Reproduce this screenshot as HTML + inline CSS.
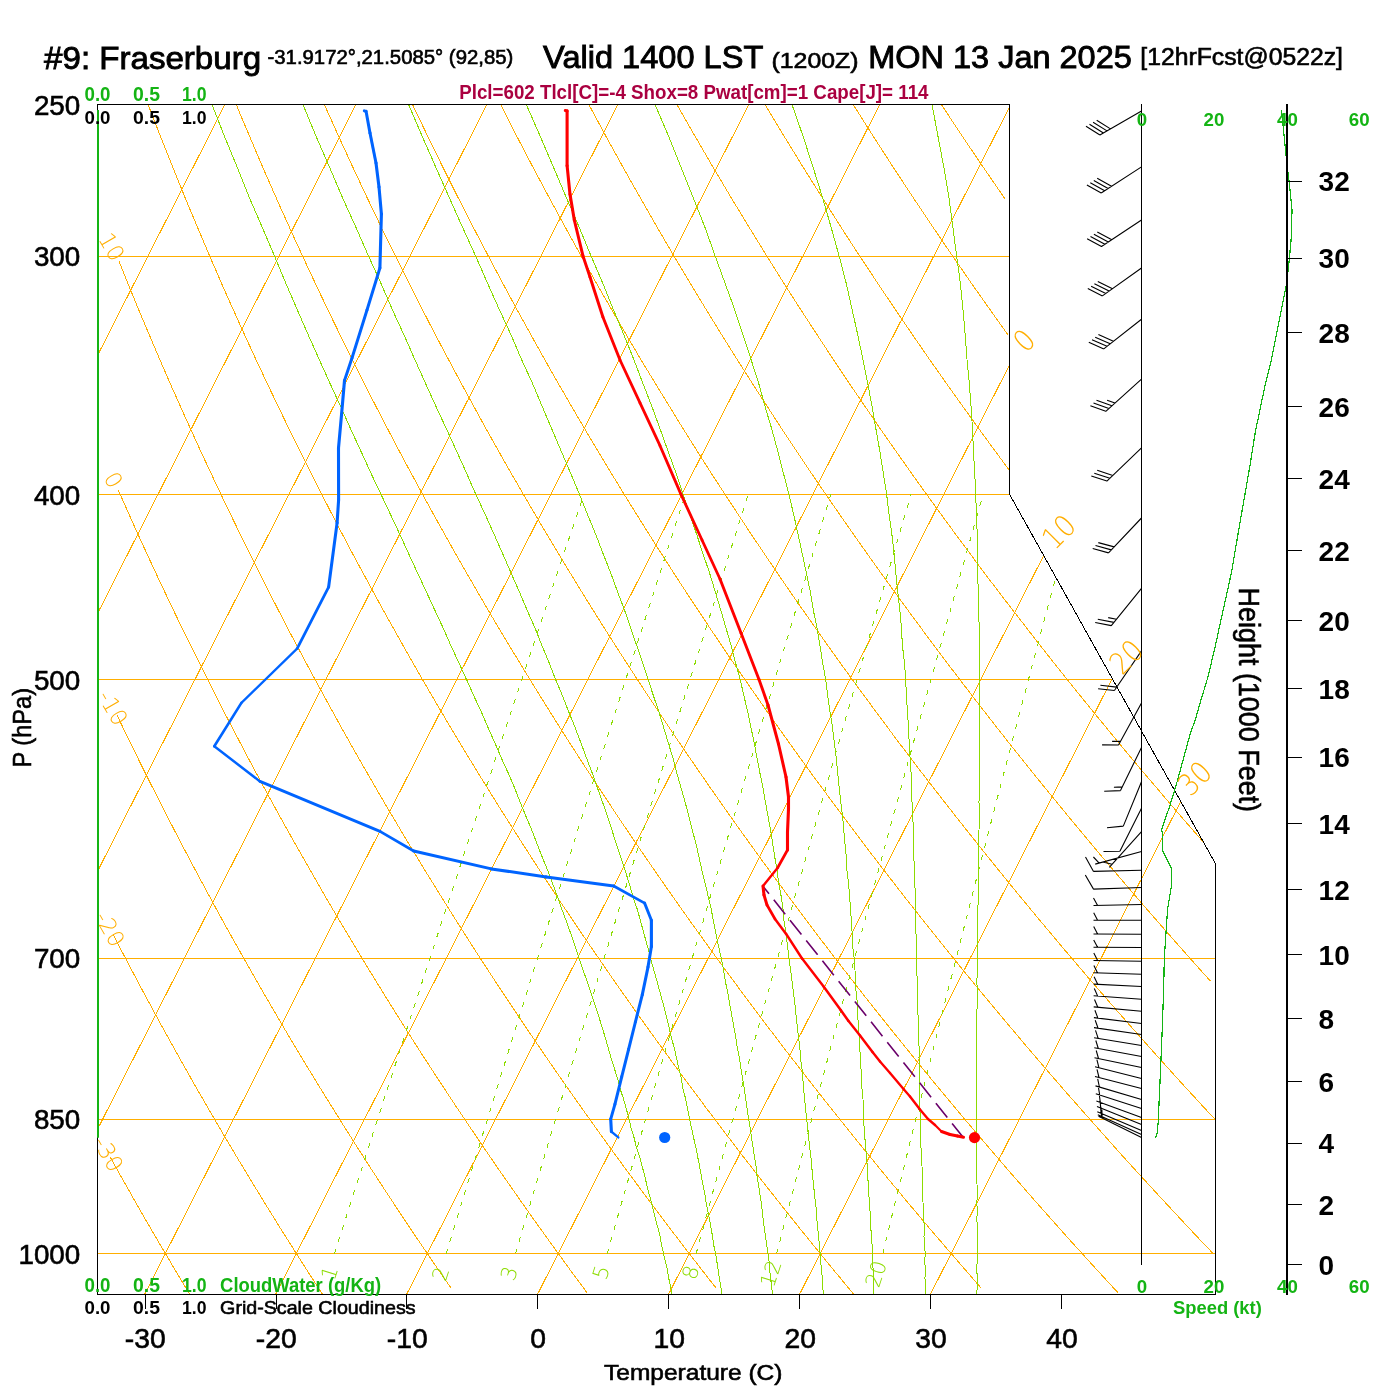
<!DOCTYPE html>
<html><head><meta charset="utf-8"><style>
html,body{margin:0;padding:0;background:#fff;}
svg{display:block;}
text{font-family:"Liberation Sans",sans-serif;}
</style></head><body>
<svg width="1400" height="1400" viewBox="0 0 1400 1400">
<defs><clipPath id="cp"><polygon points="97.5,1294.0 1215.5,1294.0 1215.5,863.7 1009.4,494.2 1009.4,104.5 97.5,104.5"/></clipPath></defs>
<g clip-path="url(#cp)" fill="none" stroke-width="1" shape-rendering="crispEdges">
<line x1="97.5" y1="256.5" x2="1300.0" y2="256.5" stroke="#ffae00"/>
<line x1="97.5" y1="494.5" x2="1300.0" y2="494.5" stroke="#ffae00"/>
<line x1="97.5" y1="679.5" x2="1300.0" y2="679.5" stroke="#ffae00"/>
<line x1="97.5" y1="958.5" x2="1300.0" y2="958.5" stroke="#ffae00"/>
<line x1="97.5" y1="1119.5" x2="1300.0" y2="1119.5" stroke="#ffae00"/>
<line x1="97.5" y1="1253.5" x2="1300.0" y2="1253.5" stroke="#ffae00"/>
<line x1="-771.9" y1="1294.0" x2="217.8" y2="-655.0" stroke="#ffae00"/>
<line x1="-640.9" y1="1294.0" x2="348.7" y2="-655.0" stroke="#ffae00"/>
<line x1="-510.0" y1="1294.0" x2="479.7" y2="-655.0" stroke="#ffae00"/>
<line x1="-379.0" y1="1294.0" x2="610.6" y2="-655.0" stroke="#ffae00"/>
<line x1="-248.0" y1="1294.0" x2="741.6" y2="-655.0" stroke="#ffae00"/>
<line x1="-117.1" y1="1294.0" x2="872.6" y2="-655.0" stroke="#ffae00"/>
<line x1="13.9" y1="1294.0" x2="1003.5" y2="-655.0" stroke="#ffae00"/>
<line x1="144.8" y1="1294.0" x2="1134.5" y2="-655.0" stroke="#ffae00"/>
<line x1="275.8" y1="1294.0" x2="1265.4" y2="-655.0" stroke="#ffae00"/>
<line x1="406.8" y1="1294.0" x2="1396.4" y2="-655.0" stroke="#ffae00"/>
<line x1="537.7" y1="1294.0" x2="1527.4" y2="-655.0" stroke="#ffae00"/>
<line x1="668.7" y1="1294.0" x2="1658.3" y2="-655.0" stroke="#ffae00"/>
<line x1="799.7" y1="1294.0" x2="1789.3" y2="-655.0" stroke="#ffae00"/>
<line x1="930.6" y1="1294.0" x2="1920.3" y2="-655.0" stroke="#ffae00"/>
<polyline points="110.2,1157.0 115.3,1166.2 120.4,1175.4 125.5,1184.4 130.6,1193.4 135.6,1202.3 140.6,1211.0 145.6,1219.7 150.6,1228.3 155.6,1236.8 160.5,1245.2 165.4,1253.5 170.3,1261.8 175.1,1270.0 179.9,1278.0 184.8,1286.1 189.5,1294.0" stroke="#ffae00"/>
<polyline points="112.8,933.9 119.0,946.0 125.3,957.9 131.5,969.7 137.6,981.3 143.7,992.7 149.8,1004.0 155.8,1015.1 161.8,1026.1 167.8,1036.9 173.7,1047.6 179.6,1058.2 185.5,1068.6 191.3,1078.9 197.1,1089.1 202.9,1099.1 208.6,1109.0 214.3,1118.8 220.0,1128.5 225.6,1138.1 231.3,1147.6 236.8,1157.0 242.4,1166.2 247.9,1175.4 253.4,1184.4 258.9,1193.4 264.3,1202.3 269.7,1211.0 275.1,1219.7 280.4,1228.3 285.8,1236.8 291.1,1245.2 296.3,1253.5 301.6,1261.8 306.8,1270.0 312.0,1278.0 317.2,1286.1 322.3,1294.0" stroke="#ffae00"/>
<polyline points="116.8,714.7 124.3,730.4 131.9,745.9 139.3,761.0 146.7,775.9 154.1,790.5 161.3,804.9 168.6,819.0 175.8,832.9 182.9,846.6 190.0,860.0 197.0,873.2 204.0,886.2 210.9,899.0 217.8,911.7 224.6,924.1 231.4,936.3 238.2,948.4 244.9,960.3 251.5,972.0 258.2,983.6 264.7,995.0 271.3,1006.2 277.8,1017.3 284.2,1028.3 290.6,1039.1 297.0,1049.7 303.3,1060.3 309.6,1070.7 315.9,1080.9 322.1,1091.1 328.3,1101.1 334.5,1111.0 340.6,1120.8 346.7,1130.5 352.7,1140.0 358.7,1149.5 364.7,1158.8 370.6,1168.1 376.6,1177.2 382.4,1186.2 388.3,1195.2 394.1,1204.0 399.9,1212.8 405.7,1221.4 411.4,1230.0 417.1,1238.5 422.8,1246.9 428.4,1255.2 434.0,1263.4 439.6,1271.6 445.2,1279.7 450.7,1287.6" stroke="#ffae00"/>
<polyline points="118.2,489.9 127.3,510.5 136.3,530.6 145.3,550.2 154.1,569.3 162.9,588.0 171.6,606.3 180.2,624.2 188.8,641.7 197.3,658.9 205.7,675.7 214.0,692.2 222.2,708.3 230.4,724.2 238.6,739.7 246.6,755.0 254.6,770.0 262.5,784.7 270.4,799.2 278.2,813.4 286.0,827.4 293.6,841.1 301.3,854.6 308.9,867.9 316.4,881.0 323.8,893.9 331.2,906.6 338.6,919.1 345.9,931.4 353.2,943.6 360.4,955.5 367.5,967.3 374.7,979.0 381.7,990.4 388.7,1001.7 395.7,1012.9 402.6,1023.9 409.5,1034.8 416.3,1045.5 423.1,1056.1 429.9,1066.5 436.6,1076.8 443.3,1087.0 449.9,1097.1 456.5,1107.1 463.1,1116.9 469.6,1126.6 476.1,1136.2 482.5,1145.7 488.9,1155.1 495.3,1164.4 501.6,1173.6 507.9,1182.6 514.2,1191.6 520.4,1200.5 526.6,1209.3 532.7,1218.0 538.9,1226.6 545.0,1235.1 551.0,1243.5 557.1,1251.9 563.1,1260.1 569.0,1268.3 575.0,1276.4 580.9,1284.5 586.8,1292.4" stroke="#ffae00"/>
<polyline points="118.9,261.1 129.8,288.1 140.6,314.3 151.3,339.6 161.8,364.2 172.2,388.1 182.6,411.3 192.8,433.9 202.9,455.9 212.9,477.3 222.8,498.2 232.6,518.6 242.3,538.5 251.9,557.9 261.4,576.8 270.8,595.4 280.1,613.5 289.3,631.3 298.5,648.6 307.6,665.7 316.6,682.3 325.5,698.7 334.3,714.7 343.0,730.4 351.7,745.9 360.3,761.0 368.9,775.9 377.3,790.5 385.7,804.9 394.1,819.0 402.3,832.9 410.5,846.6 418.7,860.0 426.7,873.2 434.8,886.2 442.7,899.0 450.6,911.7 458.4,924.1 466.2,936.3 473.9,948.4 481.6,960.3 489.2,972.0 496.8,983.6 504.3,995.0 511.8,1006.2 519.2,1017.3 526.6,1028.3 533.9,1039.1 541.1,1049.7 548.4,1060.3 555.5,1070.7 562.7,1080.9 569.8,1091.1 576.8,1101.1 583.8,1111.0 590.8,1120.8 597.7,1130.5 604.6,1140.0 611.4,1149.5 618.2,1158.8 625.0,1168.1 631.7,1177.2 638.4,1186.2 645.0,1195.2 651.6,1204.0 658.2,1212.8 664.7,1221.4 671.2,1230.0 677.7,1238.5 684.1,1246.9 690.5,1255.2 696.9,1263.4 703.2,1271.6 709.5,1279.7 715.8,1287.6" stroke="#ffae00"/>
<polyline points="122.4,35.4 135.3,70.7 148.1,104.5 160.7,137.0 173.2,168.3 185.4,198.4 197.6,227.5 209.5,255.6 221.3,282.8 233.0,309.1 244.5,334.6 255.9,359.4 267.2,383.4 278.3,406.7 289.3,429.5 300.2,451.6 311.0,473.1 321.6,494.1 332.1,514.5 342.5,534.5 352.8,554.0 363.1,573.1 373.2,591.7 383.1,609.9 393.1,627.7 402.9,645.2 412.6,662.3 422.2,679.0 431.7,695.4 441.2,711.5 450.5,727.3 459.8,742.8 469.0,758.0 478.1,773.0 487.2,787.6 496.1,802.0 505.0,816.2 513.9,830.1 522.6,843.8 531.3,857.3 539.9,870.6 548.4,883.6 556.9,896.5 565.3,909.1 573.7,921.6 582.0,933.9 590.2,946.0 598.4,957.9 606.5,969.7 614.5,981.3 622.5,992.7 630.5,1004.0 638.3,1015.1 646.2,1026.1 654.0,1036.9 661.7,1047.6 669.4,1058.2 677.0,1068.6 684.6,1078.9 692.1,1089.1 699.6,1099.1 707.0,1109.0 714.4,1118.8 721.8,1128.5 729.1,1138.1 736.3,1147.6 743.5,1157.0 750.7,1166.2 757.8,1175.4 764.9,1184.4 772.0,1193.4 779.0,1202.3 785.9,1211.0 792.9,1219.7 799.7,1228.3 806.6,1236.8 813.4,1245.2 820.2,1253.5 826.9,1261.8 833.6,1270.0 840.3,1278.0 846.9,1286.1 853.5,1294.0" stroke="#ffae00"/>
<polyline points="124.4,-200.6 139.7,-154.1 154.8,-110.0 169.6,-68.1 184.2,-28.2 198.5,9.8 212.7,46.1 226.6,81.0 240.3,114.4 253.9,146.5 267.2,177.5 280.4,207.3 293.4,236.1 306.2,263.9 318.8,290.8 331.3,316.9 343.6,342.1 355.8,366.7 367.8,390.5 379.7,413.6 391.4,436.1 403.0,458.1 414.5,479.4 425.8,500.3 437.0,520.6 448.1,540.4 459.0,559.8 469.9,578.7 480.6,597.2 491.2,615.3 501.7,633.0 512.2,650.4 522.5,667.3 532.7,684.0 542.8,700.3 552.8,716.3 562.7,732.0 572.6,747.4 582.3,762.5 592.0,777.4 601.6,792.0 611.1,806.3 620.5,820.4 629.8,834.3 639.1,847.9 648.3,861.3 657.4,874.5 666.4,887.5 675.4,900.3 684.3,912.9 693.1,925.3 701.9,937.5 710.6,949.6 719.2,961.5 727.8,973.2 736.3,984.7 744.7,996.1 753.1,1007.3 761.5,1018.4 769.7,1029.3 778.0,1040.1 786.1,1050.8 794.2,1061.3 802.3,1071.7 810.3,1082.0 818.2,1092.1 826.1,1102.1 834.0,1112.0 841.8,1121.8 849.5,1131.4 857.2,1141.0 864.9,1150.4 872.5,1159.7 880.0,1169.0 887.5,1178.1 895.0,1187.1 902.5,1196.1 909.8,1204.9 917.2,1213.6 924.5,1222.3 931.7,1230.9 939.0,1239.3 946.1,1247.7 953.3,1256.0 960.4,1264.2 967.5,1272.4 974.5,1280.5 981.5,1288.4" stroke="#ffae00"/>
<polyline points="127.5,-443.9 145.3,-382.0 162.9,-324.4 180.1,-270.6 197.1,-220.0 213.7,-172.4 230.1,-127.3 246.2,-84.6 262.1,-44.0 277.7,-5.2 293.0,31.8 308.1,67.2 322.9,101.2 337.5,133.8 351.9,165.2 366.1,195.5 380.1,224.7 393.8,252.9 407.4,280.1 420.8,306.5 434.0,332.1 447.1,356.9 460.0,381.0 472.7,404.4 485.2,427.2 497.6,449.4 509.9,471.0 522.0,492.0 534.0,512.5 545.8,532.5 557.5,552.1 569.1,571.2 580.5,589.9 591.8,608.1 603.0,626.0 614.1,643.5 625.1,660.6 636.0,677.4 646.7,693.8 657.4,709.9 668.0,725.8 678.4,741.3 688.8,756.5 699.1,771.5 709.2,786.2 719.3,800.6 729.3,814.8 739.2,828.8 749.1,842.5 758.8,856.0 768.5,869.3 778.1,882.3 787.6,895.2 797.0,907.9 806.4,920.4 815.6,932.7 824.9,944.8 834.0,956.7 843.1,968.5 852.1,980.1 861.0,991.6 869.9,1002.9 878.7,1014.0 887.5,1025.0 896.2,1035.8 904.8,1046.5 913.4,1057.1 921.9,1067.6 930.3,1077.9 938.7,1088.0 947.1,1098.1 955.4,1108.0 963.6,1117.9 971.8,1127.6 979.9,1137.2 988.0,1146.6 996.1,1156.0 1004.0,1165.3 1012.0,1174.5 1019.9,1183.5 1027.7,1192.5 1035.5,1201.4 1043.3,1210.2 1051.0,1218.8 1058.6,1227.4 1066.2,1236.0 1073.8,1244.4 1081.4,1252.7 1088.8,1261.0 1096.3,1269.1 1103.7,1277.2 1111.1,1285.3 1118.4,1293.2" stroke="#ffae00"/>
<polyline points="162.6,-576.0 182.7,-503.8 202.4,-437.5 221.8,-376.1 240.8,-318.9 259.4,-265.4 277.7,-215.1 295.6,-167.8 313.2,-123.0 330.5,-80.4 347.5,-40.0 364.2,-1.4 380.6,35.4 396.7,70.7 412.5,104.5 428.1,137.0 443.4,168.3 458.5,198.4 473.4,227.5 488.1,255.6 502.5,282.8 516.7,309.1 530.8,334.6 544.6,359.4 558.3,383.4 571.7,406.7 585.1,429.5 598.2,451.6 611.2,473.1 624.0,494.1 636.7,514.5 649.2,534.5 661.6,554.0 673.8,573.1 685.9,591.7 697.9,609.9 709.7,627.7 721.4,645.2 733.0,662.3 744.5,679.0 755.9,695.4 767.1,711.5 778.2,727.3 789.3,742.8 800.2,758.0 811.0,773.0 821.8,787.6 832.4,802.0 842.9,816.2 853.4,830.1 863.7,843.8 874.0,857.3 884.2,870.6 894.3,883.6 904.3,896.5 914.2,909.1 924.1,921.6 933.9,933.9 943.6,946.0 953.2,957.9 962.7,969.7 972.2,981.3 981.6,992.7 991.0,1004.0 1000.2,1015.1 1009.4,1026.1 1018.6,1036.9 1027.6,1047.6 1036.7,1058.2 1045.6,1068.6 1054.5,1078.9 1063.3,1089.1 1072.1,1099.1 1080.8,1109.0 1089.5,1118.8 1098.1,1128.5 1106.6,1138.1 1115.1,1147.6 1123.5,1157.0 1131.9,1166.2 1140.3,1175.4 1148.5,1184.4 1156.8,1193.4 1165.0,1202.3 1173.1,1211.0 1181.2,1219.7 1189.2,1228.3 1197.2,1236.8 1205.2,1245.2 1213.1,1253.5" stroke="#ffae00"/>
<polyline points="232.3,-576.0 254.1,-503.8 275.5,-437.5 296.4,-376.1 316.9,-318.9 337.0,-265.4 356.6,-215.1 375.9,-167.8 394.7,-123.0 413.2,-80.4 431.4,-40.0 449.1,-1.4 466.6,35.4 483.8,70.7 500.6,104.5 517.2,137.0 533.5,168.3 549.6,198.4 565.4,227.5 580.9,255.6 596.2,282.8 611.3,309.1 626.2,334.6 640.8,359.4 655.3,383.4 669.6,406.7 683.6,429.5 697.5,451.6 711.2,473.1 724.8,494.1 738.2,514.5 751.4,534.5 764.5,554.0 777.4,573.1 790.1,591.7 802.8,609.9 815.3,627.7 827.6,645.2 839.8,662.3 851.9,679.0 863.9,695.4 875.8,711.5 887.5,727.3 899.1,742.8 910.6,758.0 922.0,773.0 933.3,787.6 944.5,802.0 955.6,816.2 966.6,830.1 977.5,843.8 988.3,857.3 999.0,870.6 1009.6,883.6 1020.1,896.5 1030.5,909.1 1040.9,921.6 1051.2,933.9 1061.3,946.0 1071.5,957.9 1081.5,969.7 1091.4,981.3 1101.3,992.7 1111.1,1004.0 1120.9,1015.1 1130.5,1026.1 1140.1,1036.9 1149.6,1047.6 1159.1,1058.2 1168.5,1068.6 1177.8,1078.9 1187.1,1089.1 1196.3,1099.1 1205.4,1109.0 1214.5,1118.8" stroke="#ffae00"/>
<polyline points="302.0,-576.0 325.6,-503.8 348.6,-437.5 371.1,-376.1 393.1,-318.9 414.6,-265.4 435.6,-215.1 456.1,-167.8 476.2,-123.0 495.9,-80.4 515.2,-40.0 534.1,-1.4 552.7,35.4 570.9,70.7 588.8,104.5 606.3,137.0 623.6,168.3 640.6,198.4 657.3,227.5 673.7,255.6 689.9,282.8 705.9,309.1 721.6,334.6 737.1,359.4 752.3,383.4 767.4,406.7 782.2,429.5 796.9,451.6 811.3,473.1 825.6,494.1 839.7,514.5 853.6,534.5 867.4,554.0 881.0,573.1 894.4,591.7 907.7,609.9 920.8,627.7 933.8,645.2 946.6,662.3 959.4,679.0 971.9,695.4 984.4,711.5 996.7,727.3 1008.9,742.8 1021.0,758.0 1033.0,773.0 1044.8,787.6 1056.6,802.0 1068.2,816.2 1079.7,830.1 1091.2,843.8 1102.5,857.3 1113.7,870.6 1124.9,883.6 1135.9,896.5 1146.8,909.1 1157.7,921.6 1168.5,933.9 1179.1,946.0 1189.7,957.9 1200.2,969.7 1210.7,981.3" stroke="#ffae00"/>
<polyline points="371.7,-576.0 397.1,-503.8 421.7,-437.5 445.8,-376.1 469.3,-318.9 492.2,-265.4 514.5,-215.1 536.3,-167.8 557.7,-123.0 578.6,-80.4 599.1,-40.0 619.1,-1.4 638.7,35.4 658.0,70.7 676.9,104.5 695.5,137.0 713.7,168.3 731.6,198.4 749.3,227.5 766.6,255.6 783.6,282.8 800.4,309.1 817.0,334.6 833.3,359.4 849.3,383.4 865.2,406.7 880.8,429.5 896.2,451.6 911.4,473.1 926.4,494.1 941.2,514.5 955.8,534.5 970.3,554.0 984.5,573.1 998.6,591.7 1012.6,609.9 1026.4,627.7 1040.0,645.2 1053.5,662.3 1066.8,679.0 1080.0,695.4 1093.0,711.5 1106.0,727.3 1118.7,742.8 1131.4,758.0 1143.9,773.0 1156.4,787.6 1168.7,802.0 1180.8,816.2 1192.9,830.1 1204.9,843.8" stroke="#ffae00"/>
<polyline points="441.4,-576.0 468.5,-503.8 494.9,-437.5 520.5,-376.1 545.4,-318.9 569.7,-265.4 593.4,-215.1 616.6,-167.8 639.2,-123.0 661.3,-80.4 682.9,-40.0 704.1,-1.4 724.8,35.4 745.1,70.7 765.0,104.5 784.6,137.0 803.8,168.3 822.7,198.4 841.2,227.5 859.4,255.6 877.4,282.8 895.0,309.1 912.4,334.6 929.5,359.4 946.4,383.4 963.0,406.7 979.4,429.5 995.5,451.6 1011.5,473.1" stroke="#ffae00"/>
<polyline points="511.1,-576.0 540.0,-503.8 568.0,-437.5 595.2,-376.1 621.6,-318.9 647.3,-265.4 672.4,-215.1 696.8,-167.8 720.7,-123.0 744.0,-80.4 766.7,-40.0 789.0,-1.4 810.8,35.4 832.2,70.7 853.2,104.5 873.7,137.0 893.9,168.3 913.7,198.4 933.2,227.5 952.3,255.6 971.1,282.8 989.6,309.1 1007.8,334.6" stroke="#ffae00"/>
<polyline points="580.8,-576.0 611.4,-503.8 641.1,-437.5 669.8,-376.1 697.8,-318.9 724.9,-265.4 751.3,-215.1 777.1,-167.8 802.2,-123.0 826.7,-80.4 850.6,-40.0 874.0,-1.4 896.9,35.4 919.3,70.7 941.3,104.5 962.8,137.0 984.0,168.3 1004.7,198.4" stroke="#ffae00"/>
<polyline points="650.5,-576.0 682.9,-503.8 714.2,-437.5 744.5,-376.1 773.9,-318.9 802.5,-265.4 830.3,-215.1 857.3,-167.8 883.6,-123.0 909.3,-80.4 934.4,-40.0 959.0,-1.4 983.0,35.4 1006.4,70.7" stroke="#ffae00"/>
<polyline points="720.2,-576.0 754.4,-503.8 787.3,-437.5 819.2,-376.1 850.1,-318.9 880.1,-265.4 909.2,-215.1 937.5,-167.8 965.1,-123.0 992.0,-80.4" stroke="#ffae00"/>
<polyline points="789.9,-576.0 825.8,-503.8 860.4,-437.5 893.9,-376.1 926.2,-318.9 957.6,-265.4 988.1,-215.1" stroke="#ffae00"/>
<polyline points="859.7,-576.0 897.3,-503.8 933.5,-437.5 968.5,-376.1 1002.4,-318.9" stroke="#ffae00"/>
<polyline points="976.9,1294.0 977.1,1286.1 977.3,1278.0 976.8,1270.0 977.1,1261.8 977.5,1253.5 977.6,1245.2 977.1,1236.8 977.4,1228.3 976.9,1219.7 977.2,1211.0 976.9,1202.3 977.3,1193.4 977.0,1184.4 976.8,1175.4 976.6,1166.2 976.4,1157.0 976.3,1147.6 976.3,1138.1 976.3,1128.5 976.4,1118.8 976.7,1109.0 976.3,1099.1 976.7,1089.1 976.4,1078.9 977.0,1068.6 976.8,1058.2 976.7,1047.6 976.7,1036.9 976.7,1026.1 976.9,1015.1 977.1,1004.0 977.3,992.7 976.9,981.3 977.3,969.7 977.1,957.9 977.1,946.0 977.3,933.9 977.5,921.6 977.9,909.1 978.3,896.5 978.1,883.6 978.7,870.6 978.7,857.3 978.8,843.8 979.0,830.1 979.4,816.2 979.0,802.0 979.6,787.6 979.6,773.0 979.7,758.0 979.9,742.8 979.5,727.3 979.3,711.5 979.2,695.4 979.3,679.0 979.6,662.3 979.3,645.2 979.2,627.7 978.6,609.9 978.1,591.7 977.9,573.1 977.9,554.0 977.3,534.5 976.3,514.5 975.8,494.1 974.7,473.1 973.5,451.6 972.5,429.5 971.1,406.7 969.3,383.4 967.0,359.4 965.2,334.6 962.9,309.1 960.3,282.8 956.6,255.6 952.9,227.5 949.0,198.4 944.0,168.3 938.1,137.0 932.0,104.5 925.4,70.7" stroke="#8cdc00"/>
<polyline points="925.4,1294.0 925.2,1286.1 925.0,1278.0 925.3,1270.0 924.8,1261.8 925.2,1253.5 924.6,1245.2 924.0,1236.8 924.3,1228.3 923.8,1219.7 923.4,1211.0 923.0,1202.3 922.7,1193.4 922.4,1184.4 922.2,1175.4 922.0,1166.2 921.5,1157.0 921.0,1147.6 920.9,1138.1 920.2,1128.5 920.3,1118.8 919.9,1109.0 919.6,1099.1 919.4,1089.1 919.2,1078.9 919.1,1068.6 919.0,1058.2 919.1,1047.6 918.4,1036.9 918.5,1026.1 918.0,1015.1 917.6,1004.0 917.6,992.7 917.3,981.3 916.7,969.7 916.5,957.9 916.6,946.0 916.0,933.9 915.5,921.6 915.9,909.1 915.6,896.5 914.7,883.6 914.6,870.6 913.8,857.3 914.0,843.8 913.5,830.1 912.7,816.2 912.0,802.0 911.5,787.6 911.1,773.0 910.1,758.0 909.2,742.8 908.5,727.3 907.5,711.5 906.3,695.4 905.7,679.0 904.4,662.3 902.4,645.2 901.4,627.7 899.8,609.9 897.7,591.7 895.8,573.1 894.1,554.0 891.9,534.5 889.1,514.5 886.6,494.1 883.3,473.1 879.9,451.6 876.0,429.5 872.1,406.7 867.7,383.4 862.9,359.4 857.7,334.6 852.0,309.1 846.1,282.8 839.0,255.6 831.2,227.5 822.8,198.4 813.4,168.3 803.3,137.0 792.0,104.5 780.4,70.7" stroke="#8cdc00"/>
<polyline points="874.0,1294.0 873.8,1286.1 873.6,1278.0 873.1,1270.0 872.7,1261.8 872.2,1253.5 872.1,1245.2 871.6,1236.8 870.8,1228.3 870.4,1219.7 870.0,1211.0 869.7,1202.3 868.6,1193.4 868.4,1184.4 867.5,1175.4 867.3,1166.2 866.5,1157.0 865.7,1147.6 864.9,1138.1 864.2,1128.5 863.6,1118.8 863.3,1109.0 863.0,1099.1 862.0,1089.1 861.9,1078.9 861.0,1068.6 860.2,1058.2 859.9,1047.6 859.2,1036.9 858.3,1026.1 857.8,1015.1 857.4,1004.0 856.2,992.7 855.2,981.3 855.0,969.7 854.1,957.9 852.7,946.0 852.2,933.9 851.3,921.6 850.6,909.1 849.6,896.5 848.6,883.6 847.0,870.6 846.3,857.3 845.0,843.8 843.7,830.1 842.6,816.2 840.8,802.0 839.2,787.6 837.7,773.0 836.3,758.0 834.3,742.8 832.5,727.3 830.0,711.5 827.7,695.4 825.6,679.0 822.6,662.3 819.9,645.2 816.9,627.7 813.3,609.9 810.3,591.7 806.4,573.1 802.3,554.0 798.1,534.5 793.7,514.5 788.8,494.1 783.4,473.1 777.9,451.6 771.9,429.5 765.1,406.7 758.7,383.4 751.0,359.4 742.9,334.6 734.5,309.1 724.9,282.8 715.0,255.6 705.0,227.5 693.5,198.4 681.5,168.3 668.9,137.0 655.0,104.5 640.0,70.7" stroke="#8cdc00"/>
<polyline points="823.3,1294.0 822.7,1286.1 822.2,1278.0 821.7,1270.0 820.5,1261.8 820.1,1253.5 819.6,1245.2 818.3,1236.8 817.9,1228.3 816.8,1219.7 816.5,1211.0 815.4,1202.3 814.4,1193.4 813.5,1184.4 812.6,1175.4 811.7,1166.2 810.9,1157.0 809.7,1147.6 808.7,1138.1 807.6,1128.5 806.7,1118.8 805.6,1109.0 804.6,1099.1 803.7,1089.1 802.8,1078.9 802.0,1068.6 800.5,1058.2 799.9,1047.6 798.5,1036.9 797.2,1026.1 796.0,1015.1 794.9,1004.0 793.5,992.7 792.1,981.3 790.5,969.7 788.9,957.9 787.5,946.0 786.1,933.9 784.1,921.6 783.0,909.1 781.2,896.5 778.7,883.6 777.1,870.6 774.8,857.3 772.7,843.8 770.6,830.1 768.0,816.2 765.4,802.0 763.0,787.6 759.9,773.0 757.0,758.0 754.2,742.8 750.9,727.3 747.6,711.5 743.8,695.4 740.1,679.0 735.4,662.3 731.0,645.2 725.9,627.7 720.7,609.9 715.2,591.7 709.6,573.1 703.1,554.0 696.7,534.5 689.9,514.5 682.9,494.1 676.0,473.1 668.2,451.6 660.3,429.5 652.0,406.7 642.9,383.4 633.8,359.4 623.8,334.6 613.2,309.1 602.6,282.8 590.9,255.6 579.3,227.5 566.7,198.4 553.9,168.3 540.5,137.0 526.3,104.5 510.9,70.7" stroke="#8cdc00"/>
<polyline points="772.7,1294.0 771.3,1286.1 770.8,1278.0 769.5,1270.0 769.1,1261.8 767.9,1253.5 766.7,1245.2 765.5,1236.8 764.3,1228.3 763.2,1219.7 762.2,1211.0 761.2,1202.3 759.8,1193.4 758.5,1184.4 756.9,1175.4 756.1,1166.2 754.5,1157.0 753.1,1147.6 751.6,1138.1 750.3,1128.5 748.6,1118.8 747.1,1109.0 745.7,1099.1 744.3,1089.1 742.6,1078.9 741.0,1068.6 739.5,1058.2 737.2,1047.6 735.8,1036.9 733.7,1026.1 731.7,1015.1 729.7,1004.0 727.8,992.7 725.3,981.3 723.6,969.7 721.2,957.9 718.5,946.0 716.0,933.9 713.5,921.6 711.2,909.1 708.2,896.5 705.2,883.6 702.0,870.6 699.0,857.3 696.0,843.8 692.3,830.1 688.8,816.2 685.1,802.0 681.0,787.6 676.8,773.0 673.0,758.0 668.2,742.8 663.6,727.3 658.8,711.5 653.3,695.4 648.0,679.0 642.6,662.3 636.6,645.2 630.5,627.7 624.5,609.9 617.5,591.7 610.8,573.1 603.2,554.0 595.8,534.5 587.5,514.5 579.4,494.1 570.6,473.1 561.4,451.6 552.0,429.5 542.3,406.7 532.5,383.4 521.5,359.4 510.9,334.6 499.1,309.1 487.4,282.8 475.4,255.6 462.6,227.5 449.6,198.4 436.3,168.3 422.5,137.0 408.6,104.5 393.2,70.7" stroke="#8cdc00"/>
<polyline points="722.0,1294.0 720.7,1286.1 719.4,1278.0 718.1,1270.0 716.9,1261.8 715.7,1253.5 713.7,1245.2 712.6,1236.8 711.1,1228.3 709.6,1219.7 707.8,1211.0 706.1,1202.3 704.8,1193.4 702.8,1184.4 701.2,1175.4 699.6,1166.2 697.7,1157.0 695.9,1147.6 693.7,1138.1 691.6,1128.5 689.6,1118.8 687.6,1109.0 685.7,1099.1 683.1,1089.1 681.4,1078.9 678.9,1068.6 676.5,1058.2 674.2,1047.6 671.1,1036.9 668.9,1026.1 666.0,1015.1 663.2,1004.0 660.1,992.7 657.0,981.3 653.7,969.7 650.4,957.9 647.4,946.0 644.0,933.9 640.7,921.6 637.2,909.1 632.9,896.5 629.2,883.6 625.2,870.6 620.9,857.3 616.3,843.8 611.9,830.1 607.5,816.2 602.5,802.0 597.3,787.6 592.2,773.0 586.5,758.0 580.9,742.8 575.0,727.3 568.6,711.5 562.3,695.4 555.4,679.0 548.9,662.3 541.8,645.2 534.9,627.7 527.0,609.9 519.3,591.7 511.1,573.1 502.8,554.0 494.2,534.5 485.2,514.5 475.7,494.1 466.5,473.1 456.8,451.6 446.7,429.5 436.1,406.7 425.5,383.4 414.8,359.4 403.8,334.6 392.1,309.1 380.7,282.8 368.3,255.6 356.0,227.5 342.8,198.4 330.0,168.3 316.4,137.0 302.9,104.5 288.7,70.7" stroke="#8cdc00"/>
<polyline points="672.1,1294.0 670.4,1286.1 668.7,1278.0 667.4,1270.0 665.4,1261.8 663.5,1253.5 661.7,1245.2 660.1,1236.8 658.0,1228.3 655.7,1219.7 653.4,1211.0 651.5,1202.3 648.9,1193.4 646.7,1184.4 644.6,1175.4 642.1,1166.2 639.7,1157.0 636.5,1147.6 634.2,1138.1 631.2,1128.5 629.0,1118.8 626.3,1109.0 623.6,1099.1 620.2,1089.1 617.7,1078.9 614.4,1068.6 611.2,1058.2 608.1,1047.6 605.1,1036.9 601.7,1026.1 598.4,1015.1 594.8,1004.0 590.9,992.7 587.1,981.3 582.9,969.7 578.9,957.9 575.1,946.0 570.9,933.9 566.5,921.6 561.8,909.1 557.5,896.5 552.6,883.6 547.8,870.6 542.3,857.3 537.0,843.8 531.8,830.1 525.9,816.2 520.1,802.0 514.5,787.6 508.2,773.0 501.3,758.0 494.9,742.8 487.9,727.3 481.1,711.5 473.6,695.4 466.3,679.0 458.6,662.3 450.7,645.2 443.0,627.7 434.7,609.9 426.3,591.7 417.6,573.1 408.8,554.0 399.9,534.5 390.5,514.5 380.9,494.1 370.9,473.1 361.1,451.6 350.9,429.5 340.7,406.7 330.0,383.4 319.2,359.4 308.1,334.6 297.0,309.1 285.6,282.8 274.3,255.6 262.3,227.5 249.7,198.4 237.7,168.3 224.7,137.0 212.0,104.5 198.5,70.7" stroke="#8cdc00"/>
<polyline points="882.8,1253.5 884.8,1245.2 886.8,1236.8 888.9,1228.3 891.0,1219.7 893.1,1211.0 895.3,1202.3 897.4,1193.4 899.6,1184.4 901.9,1175.4 904.1,1166.2 906.4,1157.0 908.7,1147.6 911.0,1138.1 913.4,1128.5 915.8,1118.8 918.3,1109.0 920.7,1099.1 923.2,1089.1 925.8,1078.9 928.3,1068.6 930.9,1058.2 933.6,1047.6 936.3,1036.9 939.0,1026.1 941.8,1015.1 944.6,1004.0 947.4,992.7 950.3,981.3 953.3,969.7 956.2,957.9 959.3,946.0 962.4,933.9 965.5,921.6 968.7,909.1 971.9,896.5 975.2,883.6 978.6,870.6 982.0,857.3 985.5,843.8 989.0,830.1 992.7,816.2 996.3,802.0 1000.1,787.6 1003.9,773.0 1007.8,758.0 1011.8,742.8 1015.9,727.3 1020.0,711.5 1024.3,695.4 1028.6,679.0 1033.1,662.3 1037.6,645.2 1042.2,627.7 1047.0,609.9 1051.9,591.7 1056.8,573.1 1062.0,554.0 1067.2,534.5 1072.6,514.5 1078.2,494.1" stroke="#8cdc00" stroke-dasharray="5,7.3"/>
<polyline points="776.6,1253.5 778.8,1245.2 781.0,1236.8 783.2,1228.3 785.4,1219.7 787.7,1211.0 790.0,1202.3 792.3,1193.4 794.6,1184.4 797.0,1175.4 799.4,1166.2 801.8,1157.0 804.3,1147.6 806.7,1138.1 809.3,1128.5 811.8,1118.8 814.4,1109.0 817.0,1099.1 819.7,1089.1 822.4,1078.9 825.1,1068.6 827.9,1058.2 830.7,1047.6 833.5,1036.9 836.4,1026.1 839.4,1015.1 842.3,1004.0 845.4,992.7 848.4,981.3 851.5,969.7 854.7,957.9 857.9,946.0 861.2,933.9 864.5,921.6 867.9,909.1 871.3,896.5 874.8,883.6 878.4,870.6 882.0,857.3 885.6,843.8 889.4,830.1 893.2,816.2 897.1,802.0 901.1,787.6 905.1,773.0 909.2,758.0 913.4,742.8 917.7,727.3 922.1,711.5 926.6,695.4 931.1,679.0 935.8,662.3 940.6,645.2 945.5,627.7 950.5,609.9 955.6,591.7 960.8,573.1 966.2,554.0 971.7,534.5 977.4,514.5 983.2,494.1" stroke="#8cdc00" stroke-dasharray="5,7.3"/>
<polyline points="696.2,1253.5 698.5,1245.2 700.7,1236.8 703.1,1228.3 705.4,1219.7 707.7,1211.0 710.1,1202.3 712.5,1193.4 715.0,1184.4 717.5,1175.4 720.0,1166.2 722.5,1157.0 725.1,1147.6 727.7,1138.1 730.3,1128.5 733.0,1118.8 735.7,1109.0 738.4,1099.1 741.2,1089.1 744.0,1078.9 746.8,1068.6 749.7,1058.2 752.6,1047.6 755.6,1036.9 758.6,1026.1 761.7,1015.1 764.8,1004.0 767.9,992.7 771.1,981.3 774.4,969.7 777.7,957.9 781.0,946.0 784.4,933.9 787.9,921.6 791.4,909.1 795.0,896.5 798.6,883.6 802.3,870.6 806.0,857.3 809.9,843.8 813.8,830.1 817.7,816.2 821.8,802.0 825.9,787.6 830.1,773.0 834.4,758.0 838.7,742.8 843.2,727.3 847.7,711.5 852.4,695.4 857.1,679.0 861.9,662.3 866.9,645.2 872.0,627.7 877.2,609.9 882.5,591.7 887.9,573.1 893.5,554.0 899.2,534.5 905.1,514.5 911.1,494.1" stroke="#8cdc00" stroke-dasharray="5,7.3"/>
<polyline points="607.2,1253.5 609.6,1245.2 612.0,1236.8 614.4,1228.3 616.8,1219.7 619.3,1211.0 621.8,1202.3 624.3,1193.4 626.9,1184.4 629.5,1175.4 632.1,1166.2 634.7,1157.0 637.4,1147.6 640.1,1138.1 642.9,1128.5 645.7,1118.8 648.5,1109.0 651.3,1099.1 654.2,1089.1 657.2,1078.9 660.1,1068.6 663.2,1058.2 666.2,1047.6 669.3,1036.9 672.5,1026.1 675.7,1015.1 678.9,1004.0 682.2,992.7 685.5,981.3 688.9,969.7 692.3,957.9 695.8,946.0 699.4,933.9 703.0,921.6 706.6,909.1 710.3,896.5 714.1,883.6 718.0,870.6 721.9,857.3 725.9,843.8 729.9,830.1 734.0,816.2 738.2,802.0 742.5,787.6 746.9,773.0 751.3,758.0 755.9,742.8 760.5,727.3 765.2,711.5 770.1,695.4 775.0,679.0 780.0,662.3 785.2,645.2 790.4,627.7 795.8,609.9 801.3,591.7 807.0,573.1 812.8,554.0 818.7,534.5 824.8,514.5 831.0,494.1" stroke="#8cdc00" stroke-dasharray="5,7.3"/>
<polyline points="515.5,1253.5 518.0,1245.2 520.4,1236.8 523.0,1228.3 525.5,1219.7 528.1,1211.0 530.7,1202.3 533.3,1193.4 536.0,1184.4 538.7,1175.4 541.4,1166.2 544.2,1157.0 547.0,1147.6 549.8,1138.1 552.7,1128.5 555.6,1118.8 558.6,1109.0 561.5,1099.1 564.6,1089.1 567.6,1078.9 570.7,1068.6 573.9,1058.2 577.1,1047.6 580.3,1036.9 583.6,1026.1 586.9,1015.1 590.3,1004.0 593.7,992.7 597.1,981.3 600.7,969.7 604.2,957.9 607.9,946.0 611.6,933.9 615.3,921.6 619.1,909.1 623.0,896.5 626.9,883.6 630.9,870.6 635.0,857.3 639.1,843.8 643.3,830.1 647.6,816.2 652.0,802.0 656.5,787.6 661.0,773.0 665.6,758.0 670.3,742.8 675.1,727.3 680.0,711.5 685.0,695.4 690.2,679.0 695.4,662.3 700.7,645.2 706.2,627.7 711.8,609.9 717.5,591.7 723.3,573.1 729.3,554.0 735.5,534.5 741.8,514.5 748.2,494.1" stroke="#8cdc00" stroke-dasharray="5,7.3"/>
<polyline points="446.2,1253.5 448.7,1245.2 451.3,1236.8 453.9,1228.3 456.5,1219.7 459.2,1211.0 461.9,1202.3 464.6,1193.4 467.4,1184.4 470.1,1175.4 473.0,1166.2 475.8,1157.0 478.7,1147.6 481.6,1138.1 484.6,1128.5 487.6,1118.8 490.6,1109.0 493.7,1099.1 496.8,1089.1 499.9,1078.9 503.1,1068.6 506.4,1058.2 509.6,1047.6 513.0,1036.9 516.3,1026.1 519.8,1015.1 523.2,1004.0 526.7,992.7 530.3,981.3 533.9,969.7 537.6,957.9 541.4,946.0 545.2,933.9 549.0,921.6 552.9,909.1 556.9,896.5 561.0,883.6 565.1,870.6 569.2,857.3 573.5,843.8 577.8,830.1 582.2,816.2 586.7,802.0 591.3,787.6 596.0,773.0 600.7,758.0 605.6,742.8 610.5,727.3 615.5,711.5 620.7,695.4 625.9,679.0 631.3,662.3 636.8,645.2 642.4,627.7 648.1,609.9 654.0,591.7 660.0,573.1 666.1,554.0 672.4,534.5 678.9,514.5 685.5,494.1" stroke="#8cdc00" stroke-dasharray="5,7.3"/>
<polyline points="334.4,1253.5 337.1,1245.2 339.8,1236.8 342.5,1228.3 345.3,1219.7 348.1,1211.0 350.9,1202.3 353.7,1193.4 356.6,1184.4 359.5,1175.4 362.5,1166.2 365.5,1157.0 368.5,1147.6 371.5,1138.1 374.6,1128.5 377.8,1118.8 380.9,1109.0 384.1,1099.1 387.4,1089.1 390.7,1078.9 394.0,1068.6 397.4,1058.2 400.8,1047.6 404.3,1036.9 407.8,1026.1 411.4,1015.1 415.0,1004.0 418.7,992.7 422.4,981.3 426.2,969.7 430.0,957.9 433.9,946.0 437.9,933.9 441.9,921.6 446.0,909.1 450.2,896.5 454.4,883.6 458.7,870.6 463.0,857.3 467.5,843.8 472.0,830.1 476.6,816.2 481.3,802.0 486.0,787.6 490.9,773.0 495.8,758.0 500.9,742.8 506.0,727.3 511.2,711.5 516.6,695.4 522.0,679.0 527.6,662.3 533.3,645.2 539.1,627.7 545.1,609.9 551.2,591.7 557.4,573.1 563.8,554.0 570.4,534.5 577.1,514.5 584.0,494.1" stroke="#8cdc00" stroke-dasharray="5,7.3"/>
</g>
<polygon points="97.5,1294.5 1215.5,1294.5 1215.5,863.7 1009.5,494.2 1009.5,104.5 97.5,104.5" fill="none" stroke="#000" stroke-width="1" shape-rendering="crispEdges"/>
<line x1="145.5" y1="1294" x2="145.5" y2="1309" stroke="#000" shape-rendering="crispEdges"/>
<line x1="276.5" y1="1294" x2="276.5" y2="1309" stroke="#000" shape-rendering="crispEdges"/>
<line x1="406.5" y1="1294" x2="406.5" y2="1309" stroke="#000" shape-rendering="crispEdges"/>
<line x1="537.5" y1="1294" x2="537.5" y2="1309" stroke="#000" shape-rendering="crispEdges"/>
<line x1="668.5" y1="1294" x2="668.5" y2="1309" stroke="#000" shape-rendering="crispEdges"/>
<line x1="799.5" y1="1294" x2="799.5" y2="1309" stroke="#000" shape-rendering="crispEdges"/>
<line x1="930.5" y1="1294" x2="930.5" y2="1309" stroke="#000" shape-rendering="crispEdges"/>
<line x1="1061.5" y1="1294" x2="1061.5" y2="1309" stroke="#000" shape-rendering="crispEdges"/>
<line x1="98" y1="110" x2="98" y2="1137.7" stroke="#14b414" stroke-width="2"/>
<polyline points="963.5,1137.8 762.5,885.7" fill="none" stroke="#6a006a" stroke-width="1.6" stroke-dasharray="18.3,7.7" />
<g stroke="#ff0000" stroke-linecap="round"><line x1="565.3" y1="110.6" x2="567.1" y2="110.9" stroke-width="3.06"/><line x1="567.1" y1="110.9" x2="567.1" y2="165.7" stroke-width="3.10"/><line x1="567.1" y1="165.7" x2="570.0" y2="194.3" stroke-width="3.08"/><line x1="570.0" y1="194.3" x2="574.3" y2="220.0" stroke-width="3.06"/><line x1="574.3" y1="220.0" x2="582.9" y2="255.7" stroke-width="3.01"/><line x1="582.9" y1="255.7" x2="590.0" y2="277.0" stroke-width="2.94"/><line x1="590.0" y1="277.0" x2="602.9" y2="317.0" stroke-width="2.95"/><line x1="602.9" y1="317.0" x2="620.0" y2="360.0" stroke-width="2.88"/><line x1="620.0" y1="360.0" x2="640.0" y2="402.9" stroke-width="2.81"/><line x1="640.0" y1="402.9" x2="660.0" y2="445.7" stroke-width="2.81"/><line x1="660.0" y1="445.7" x2="681.0" y2="494.4" stroke-width="2.85"/><line x1="681.0" y1="494.4" x2="702.0" y2="540.0" stroke-width="2.82"/><line x1="702.0" y1="540.0" x2="720.0" y2="579.0" stroke-width="2.81"/><line x1="720.0" y1="579.0" x2="741.0" y2="633.0" stroke-width="2.89"/><line x1="741.0" y1="633.0" x2="759.0" y2="679.5" stroke-width="2.89"/><line x1="759.0" y1="679.5" x2="768.0" y2="705.0" stroke-width="2.92"/><line x1="768.0" y1="705.0" x2="778.5" y2="744.0" stroke-width="2.99"/><line x1="778.5" y1="744.0" x2="786.0" y2="777.0" stroke-width="3.02"/><line x1="786.0" y1="777.0" x2="788.5" y2="797.0" stroke-width="3.08"/><line x1="788.5" y1="797.0" x2="788.5" y2="809.0" stroke-width="3.10"/><line x1="788.5" y1="809.0" x2="787.5" y2="832.0" stroke-width="3.10"/><line x1="787.5" y1="832.0" x2="787.5" y2="850.0" stroke-width="3.10"/><line x1="787.5" y1="850.0" x2="777.5" y2="868.0" stroke-width="2.71"/><line x1="777.5" y1="868.0" x2="763.0" y2="886.0" stroke-width="2.41"/><line x1="763.0" y1="886.0" x2="764.0" y2="895.0" stroke-width="3.08"/><line x1="764.0" y1="895.0" x2="767.0" y2="905.0" stroke-width="2.97"/><line x1="767.0" y1="905.0" x2="775.0" y2="919.0" stroke-width="2.69"/><line x1="775.0" y1="919.0" x2="786.1" y2="933.9" stroke-width="2.49"/><line x1="786.1" y1="933.9" x2="802.1" y2="958.6" stroke-width="2.60"/><line x1="802.1" y1="958.6" x2="823.6" y2="986.4" stroke-width="2.45"/><line x1="823.6" y1="986.4" x2="840.7" y2="1010.0" stroke-width="2.51"/><line x1="840.7" y1="1010.0" x2="848.3" y2="1020.8" stroke-width="2.54"/><line x1="848.3" y1="1020.8" x2="860.0" y2="1035.5" stroke-width="2.43"/><line x1="860.0" y1="1035.5" x2="872.5" y2="1052.0" stroke-width="2.47"/><line x1="872.5" y1="1052.0" x2="880.0" y2="1061.5" stroke-width="2.43"/><line x1="880.0" y1="1061.5" x2="890.0" y2="1073.0" stroke-width="2.34"/><line x1="890.0" y1="1073.0" x2="903.5" y2="1089.0" stroke-width="2.37"/><line x1="903.5" y1="1089.0" x2="910.0" y2="1096.5" stroke-width="2.34"/><line x1="910.0" y1="1096.5" x2="920.0" y2="1109.5" stroke-width="2.46"/><line x1="920.0" y1="1109.5" x2="928.0" y2="1119.0" stroke-width="2.37"/><line x1="928.0" y1="1119.0" x2="935.0" y2="1125.0" stroke-width="2.35"/><line x1="935.0" y1="1125.0" x2="941.5" y2="1131.5" stroke-width="2.19"/><line x1="941.5" y1="1131.5" x2="950.0" y2="1134.5" stroke-width="2.92"/><line x1="950.0" y1="1134.5" x2="957.5" y2="1136.0" stroke-width="3.04"/><line x1="957.5" y1="1136.0" x2="963.5" y2="1137.2" stroke-width="3.04"/></g>
<g stroke="#0064ff" stroke-linecap="round"><line x1="364.3" y1="110.8" x2="366.1" y2="111.4" stroke-width="2.94"/><line x1="366.1" y1="111.4" x2="370.0" y2="133.0" stroke-width="3.05"/><line x1="370.0" y1="133.0" x2="376.0" y2="163.0" stroke-width="3.04"/><line x1="376.0" y1="163.0" x2="379.0" y2="187.0" stroke-width="3.08"/><line x1="379.0" y1="187.0" x2="381.4" y2="214.0" stroke-width="3.09"/><line x1="381.4" y1="214.0" x2="379.9" y2="268.0" stroke-width="3.10"/><line x1="379.9" y1="268.0" x2="367.0" y2="310.0" stroke-width="2.96"/><line x1="367.0" y1="310.0" x2="352.0" y2="358.0" stroke-width="2.96"/><line x1="352.0" y1="358.0" x2="344.5" y2="380.5" stroke-width="2.94"/><line x1="344.5" y1="380.5" x2="341.5" y2="415.0" stroke-width="3.09"/><line x1="341.5" y1="415.0" x2="338.5" y2="448.0" stroke-width="3.09"/><line x1="338.5" y1="448.0" x2="338.6" y2="500.0" stroke-width="3.10"/><line x1="338.6" y1="500.0" x2="337.1" y2="522.9" stroke-width="3.09"/><line x1="337.1" y1="522.9" x2="328.6" y2="587.1" stroke-width="3.07"/><line x1="328.6" y1="587.1" x2="297.1" y2="648.6" stroke-width="2.76"/><line x1="297.1" y1="648.6" x2="241.4" y2="702.9" stroke-width="2.22"/><line x1="241.4" y1="702.9" x2="214.3" y2="746.3" stroke-width="2.63"/><line x1="214.3" y1="746.3" x2="260.0" y2="781.4" stroke-width="2.46"/><line x1="260.0" y1="781.4" x2="380.0" y2="831.4" stroke-width="2.86"/><line x1="380.0" y1="831.4" x2="413.7" y2="851.0" stroke-width="2.68"/><line x1="413.7" y1="851.0" x2="491.4" y2="868.9" stroke-width="3.02"/><line x1="491.4" y1="868.9" x2="546.3" y2="876.9" stroke-width="3.07"/><line x1="546.3" y1="876.9" x2="613.7" y2="886.0" stroke-width="3.07"/><line x1="613.7" y1="886.0" x2="644.6" y2="903.1" stroke-width="2.71"/><line x1="644.6" y1="903.1" x2="651.4" y2="920.3" stroke-width="2.88"/><line x1="651.4" y1="920.3" x2="651.4" y2="946.6" stroke-width="3.10"/><line x1="651.4" y1="946.6" x2="648.0" y2="967.1" stroke-width="3.06"/><line x1="648.0" y1="967.1" x2="642.3" y2="994.6" stroke-width="3.04"/><line x1="642.3" y1="994.6" x2="635.4" y2="1022.0" stroke-width="3.01"/><line x1="635.4" y1="1022.0" x2="628.6" y2="1049.4" stroke-width="3.01"/><line x1="628.6" y1="1049.4" x2="621.7" y2="1076.9" stroke-width="3.01"/><line x1="621.7" y1="1076.9" x2="614.9" y2="1104.3" stroke-width="3.01"/><line x1="614.9" y1="1104.3" x2="610.7" y2="1119.1" stroke-width="2.98"/><line x1="610.7" y1="1119.1" x2="611.4" y2="1131.7" stroke-width="3.10"/><line x1="611.4" y1="1131.7" x2="618.3" y2="1137.4" stroke-width="2.39"/></g>
<circle cx="974.5" cy="1137.6" r="5.6" fill="#ff0000"/>
<circle cx="664.7" cy="1137.5" r="5.6" fill="#0064ff"/>
<line x1="1141.5" y1="104" x2="1141.5" y2="1265" stroke="#000"/>
<path d="M1141.5 111.1L1099.9 135.0 M1099.9 135.0L1086.0 126.3 M1103.4 133.0L1089.5 124.2 M1107.0 130.9L1093.1 122.2 M1110.5 128.9L1096.7 120.2 M1141.5 166.9L1101.2 193.0 M1101.2 193.0L1086.9 185.0 M1104.7 190.8L1090.3 182.8 M1108.1 188.5L1093.8 180.6 M1111.5 186.3L1097.2 178.3 M1141.5 220.0L1101.5 246.5 M1101.5 246.5L1087.1 238.7 M1104.9 244.3L1090.5 236.5 M1108.3 242.0L1093.9 234.2 M1111.8 239.7L1097.3 231.9 M1141.5 268.0L1102.4 295.9 M1102.4 295.9L1087.8 288.6 M1105.8 293.5L1091.1 286.2 M1109.1 291.1L1094.4 283.8 M1112.5 288.8L1097.8 281.5 M1141.5 319.2L1103.8 348.9 M1103.8 348.9L1088.8 342.3 M1107.0 346.3L1092.0 339.7 M1110.2 343.8L1095.2 337.2 M1113.4 341.3L1098.4 334.6 M1141.5 379.2L1105.8 411.3 M1105.8 411.3L1090.4 405.7 M1108.9 408.6L1093.5 402.9 M1111.9 405.8L1096.5 400.2 M1115.0 403.1L1107.1 400.2 M1141.5 447.8L1106.9 481.1 M1106.9 481.1L1091.3 476.0 M1109.9 478.2L1094.3 473.2 M1112.8 475.4L1097.2 470.3 M1141.5 518.0L1108.5 552.9 M1108.5 552.9L1092.7 548.5 M1111.3 549.9L1095.5 545.5 M1114.2 546.9L1098.3 542.6 M1141.5 588.3L1111.3 625.6 M1111.3 625.6L1095.2 622.5 M1113.9 622.4L1097.8 619.3 M1116.5 619.2L1108.2 617.6 M1141.5 650.9L1114.4 690.5 M1114.4 690.5L1098.1 688.7 M1116.7 687.1L1100.4 685.3 M1141.5 702.9L1118.5 745.0 M1118.5 745.0L1102.1 744.9 M1120.5 741.4L1112.1 741.4 M1141.5 747.4L1120.5 790.6 M1120.5 790.6L1104.2 791.2 M1122.3 786.9L1113.9 787.2 M1141.5 781.7L1123.3 826.1 M1123.3 826.1L1107.0 827.8 M1141.5 808.3L1119.9 851.2 M1119.9 851.2L1103.5 851.5 M1141.5 831.7L1109.3 867.3 M1112.1 864.3L1103.9 862.3 M1141.5 851.5L1095.2 864.1 M1099.2 863.1L1093.4 857.0 M1141.5 870.3L1093.5 871.4 M1093.5 871.4L1085.5 857.1 M1141.5 887.5L1093.5 889.1 M1093.5 889.1L1085.3 874.9 M1141.5 904.5L1093.5 905.5 M1097.6 905.4L1093.5 898.1 M1141.5 920.2L1093.5 920.2 M1097.6 920.2L1093.7 912.8 M1141.5 934.2L1093.5 934.0 M1097.6 934.0L1093.7 926.6 M1141.5 947.5L1093.5 947.3 M1097.6 947.3L1093.7 939.9 M1141.5 961.2L1093.5 960.5 M1097.6 960.6L1093.8 953.1 M1141.5 974.3L1093.5 972.8 M1097.6 973.0L1093.9 965.4 M1141.5 986.5L1093.6 984.1 M1097.7 984.3L1094.1 976.7 M1141.5 999.2L1093.6 995.8 M1097.7 996.1L1094.3 988.5 M1141.5 1011.2L1093.7 1006.9 M1097.8 1007.2L1094.5 999.5 M1141.5 1023.5L1093.9 1017.6 M1097.9 1018.1L1094.9 1010.3 M1141.5 1034.5L1094.0 1027.6 M1098.1 1028.2L1095.2 1020.3 M1141.5 1045.5L1094.1 1037.7 M1098.2 1038.4L1095.5 1030.4 M1141.5 1056.5L1094.3 1047.7 M1098.3 1048.5L1095.8 1040.5 M1141.5 1067.5L1094.5 1057.7 M1098.5 1058.5L1096.2 1050.5 M1141.5 1078.5L1095.0 1066.7 M1098.9 1067.7L1096.9 1059.6 M1141.5 1088.5L1095.0 1076.5 M1099.0 1077.5L1097.0 1069.3 M1141.5 1099.5L1095.5 1085.9 M1099.4 1087.0L1097.7 1078.8 M1141.5 1108.5L1095.8 1093.7 M1099.7 1095.0L1098.3 1086.7 M1141.5 1117.5L1096.4 1100.9 M1100.3 1102.4L1099.2 1094.0 M1141.5 1124.5L1097.0 1106.5 M1100.8 1108.1L1099.9 1099.7 M1141.5 1130.5L1097.3 1111.7 M1101.1 1113.3L1100.4 1104.9 M1141.5 1134.5L1097.8 1114.7 M1101.5 1116.4L1101.0 1108.0 M1141.5 1137.5L1098.5 1116.2 M1102.1 1118.0L1101.9 1109.7" fill="none" stroke="#000" stroke-width="1.1"/>
<polyline points="1281.5,110.5 1284.0,135.0 1286.5,160.0 1289.5,185.0 1292.0,210.0 1291.5,235.0 1289.5,257.0 1288.2,270.0 1286.1,286.1 1281.8,307.5 1276.4,334.3 1271.1,361.1 1265.7,382.5 1261.6,402.0 1255.3,432.1 1250.2,464.3 1245.7,490.0 1241.2,515.7 1236.1,545.2 1232.0,570.0 1226.1,596.8 1220.2,623.6 1214.3,650.4 1207.9,677.2 1201.4,698.6 1195.5,719.0 1190.1,734.3 1182.8,761.0 1176.1,785.3 1169.4,807.1 1162.1,827.8 1161.5,830.2 1162.1,831.4 1162.1,849.6 1171.3,867.9 1171.5,885.7 1167.6,909.3 1165.6,938.8 1164.3,958.4 1163.7,987.9 1162.3,1027.2 1160.7,1066.5 1159.1,1101.8 1158.4,1119.5 1157.2,1133.3 1155.2,1138.2" fill="none" stroke="#14b414" stroke-width="1.2" shape-rendering="crispEdges"/>
<line x1="1287" y1="104" x2="1287" y2="1295" stroke="#000" stroke-width="2"/>
<line x1="1287" y1="1264.5" x2="1302" y2="1264.5" stroke="#000" shape-rendering="crispEdges"/>
<text x="1318.6" y="1274.8" font-size="28.0" fill="#000" font-weight="bold">0</text>
<line x1="1287" y1="1204.5" x2="1302" y2="1204.5" stroke="#000" shape-rendering="crispEdges"/>
<text x="1318.6" y="1214.5" font-size="28.0" fill="#000" font-weight="bold">2</text>
<line x1="1287" y1="1143.5" x2="1302" y2="1143.5" stroke="#000" shape-rendering="crispEdges"/>
<text x="1318.6" y="1153.2" font-size="28.0" fill="#000" font-weight="bold">4</text>
<line x1="1287" y1="1081.5" x2="1302" y2="1081.5" stroke="#000" shape-rendering="crispEdges"/>
<text x="1318.6" y="1091.5" font-size="28.0" fill="#000" font-weight="bold">6</text>
<line x1="1287" y1="1018.5" x2="1302" y2="1018.5" stroke="#000" shape-rendering="crispEdges"/>
<text x="1318.6" y="1028.9" font-size="28.0" fill="#000" font-weight="bold">8</text>
<line x1="1287" y1="954.5" x2="1302" y2="954.5" stroke="#000" shape-rendering="crispEdges"/>
<text x="1318.6" y="964.9" font-size="28.0" fill="#000" font-weight="bold">10</text>
<line x1="1287" y1="889.5" x2="1302" y2="889.5" stroke="#000" shape-rendering="crispEdges"/>
<text x="1318.6" y="900.0" font-size="28.0" fill="#000" font-weight="bold">12</text>
<line x1="1287" y1="823.5" x2="1302" y2="823.5" stroke="#000" shape-rendering="crispEdges"/>
<text x="1318.6" y="833.7" font-size="28.0" fill="#000" font-weight="bold">14</text>
<line x1="1287" y1="757.5" x2="1302" y2="757.5" stroke="#000" shape-rendering="crispEdges"/>
<text x="1318.6" y="767.4" font-size="28.0" fill="#000" font-weight="bold">16</text>
<line x1="1287" y1="688.5" x2="1302" y2="688.5" stroke="#000" shape-rendering="crispEdges"/>
<text x="1318.6" y="698.8" font-size="28.0" fill="#000" font-weight="bold">18</text>
<line x1="1287" y1="620.5" x2="1302" y2="620.5" stroke="#000" shape-rendering="crispEdges"/>
<text x="1318.6" y="630.9" font-size="28.0" fill="#000" font-weight="bold">20</text>
<line x1="1287" y1="550.5" x2="1302" y2="550.5" stroke="#000" shape-rendering="crispEdges"/>
<text x="1318.6" y="560.6" font-size="28.0" fill="#000" font-weight="bold">22</text>
<line x1="1287" y1="478.5" x2="1302" y2="478.5" stroke="#000" shape-rendering="crispEdges"/>
<text x="1318.6" y="488.6" font-size="28.0" fill="#000" font-weight="bold">24</text>
<line x1="1287" y1="406.5" x2="1302" y2="406.5" stroke="#000" shape-rendering="crispEdges"/>
<text x="1318.6" y="416.6" font-size="28.0" fill="#000" font-weight="bold">26</text>
<line x1="1287" y1="332.5" x2="1302" y2="332.5" stroke="#000" shape-rendering="crispEdges"/>
<text x="1318.6" y="342.5" font-size="28.0" fill="#000" font-weight="bold">28</text>
<line x1="1287" y1="258.5" x2="1302" y2="258.5" stroke="#000" shape-rendering="crispEdges"/>
<text x="1318.6" y="268.3" font-size="28.0" fill="#000" font-weight="bold">30</text>
<line x1="1287" y1="181.5" x2="1302" y2="181.5" stroke="#000" shape-rendering="crispEdges"/>
<text x="1318.6" y="191.2" font-size="28.0" fill="#000" font-weight="bold">32</text>
<text x="44.1" y="68.7" font-size="32.2" fill="#000" textLength="217.0" lengthAdjust="spacingAndGlyphs" stroke="#000" stroke-width="0.9">#9: Fraserburg</text>
<text x="267.5" y="63.5" font-size="19.4" fill="#000" textLength="245.8" lengthAdjust="spacingAndGlyphs" stroke="#000" stroke-width="0.6">-31.9172°,21.5085° (92,85)</text>
<text x="543.1" y="68.3" font-size="31.3" fill="#000" textLength="220.2" lengthAdjust="spacingAndGlyphs" stroke="#000" stroke-width="0.9">Valid 1400 LST</text>
<text x="771.5" y="67.5" font-size="22.0" fill="#000" textLength="87.0" lengthAdjust="spacingAndGlyphs" stroke="#000" stroke-width="0.6">(1200Z)</text>
<text x="868.3" y="68.3" font-size="31.3" fill="#000" textLength="263.5" lengthAdjust="spacingAndGlyphs" stroke="#000" stroke-width="0.9">MON 13 Jan 2025</text>
<text x="1140.3" y="64.7" font-size="23.0" fill="#000" textLength="202.7" lengthAdjust="spacingAndGlyphs" stroke="#000" stroke-width="0.6">[12hrFcst@0522z]</text>
<text x="459.2" y="98.7" font-size="19.5" fill="#aa0040" font-weight="bold" textLength="469.3" lengthAdjust="spacingAndGlyphs">Plcl=602 Tlcl[C]=-4 Shox=8 Pwat[cm]=1 Cape[J]= 114</text>
<text x="84.5" y="100.8" font-size="20.5" fill="#14b414" font-weight="bold" textLength="26.0" lengthAdjust="spacingAndGlyphs">0.0</text>
<text x="84.5" y="123.5" font-size="18.5" fill="#000" font-weight="bold" textLength="26.0" lengthAdjust="spacingAndGlyphs">0.0</text>
<text x="84.5" y="1292.3" font-size="20.5" fill="#14b414" font-weight="bold" textLength="26.0" lengthAdjust="spacingAndGlyphs">0.0</text>
<text x="84.5" y="1313.7" font-size="18.5" fill="#000" font-weight="bold" textLength="26.0" lengthAdjust="spacingAndGlyphs">0.0</text>
<text x="133.0" y="100.8" font-size="20.5" fill="#14b414" font-weight="bold" textLength="27.0" lengthAdjust="spacingAndGlyphs">0.5</text>
<text x="133.0" y="123.5" font-size="18.5" fill="#000" font-weight="bold" textLength="27.0" lengthAdjust="spacingAndGlyphs">0.5</text>
<text x="133.0" y="1292.3" font-size="20.5" fill="#14b414" font-weight="bold" textLength="27.0" lengthAdjust="spacingAndGlyphs">0.5</text>
<text x="133.0" y="1313.7" font-size="18.5" fill="#000" font-weight="bold" textLength="27.0" lengthAdjust="spacingAndGlyphs">0.5</text>
<text x="182.0" y="100.8" font-size="20.5" fill="#14b414" font-weight="bold" textLength="24.5" lengthAdjust="spacingAndGlyphs">1.0</text>
<text x="182.0" y="123.5" font-size="18.5" fill="#000" font-weight="bold" textLength="24.5" lengthAdjust="spacingAndGlyphs">1.0</text>
<text x="182.0" y="1292.3" font-size="20.5" fill="#14b414" font-weight="bold" textLength="24.5" lengthAdjust="spacingAndGlyphs">1.0</text>
<text x="182.0" y="1313.7" font-size="18.5" fill="#000" font-weight="bold" textLength="24.5" lengthAdjust="spacingAndGlyphs">1.0</text>
<text x="220.1" y="1292.3" font-size="20.0" fill="#14b414" font-weight="bold" textLength="161.0" lengthAdjust="spacingAndGlyphs">CloudWater (g/Kg)</text>
<text x="220.1" y="1313.7" font-size="19.0" fill="#000" textLength="195.5" lengthAdjust="spacingAndGlyphs" stroke="#000" stroke-width="0.6">Grid-Scale Cloudiness</text>
<text x="80.3" y="115.0" font-size="27.8" fill="#000" text-anchor="end" stroke="#000" stroke-width="0.6">250</text>
<text x="80.3" y="266.1" font-size="27.8" fill="#000" text-anchor="end" stroke="#000" stroke-width="0.6">300</text>
<text x="80.3" y="504.6" font-size="27.8" fill="#000" text-anchor="end" stroke="#000" stroke-width="0.6">400</text>
<text x="80.3" y="689.5" font-size="27.8" fill="#000" text-anchor="end" stroke="#000" stroke-width="0.6">500</text>
<text x="80.3" y="968.4" font-size="27.8" fill="#000" text-anchor="end" stroke="#000" stroke-width="0.6">700</text>
<text x="80.3" y="1129.3" font-size="27.8" fill="#000" text-anchor="end" stroke="#000" stroke-width="0.6">850</text>
<text x="80.3" y="1264.0" font-size="27.8" fill="#000" text-anchor="end" stroke="#000" stroke-width="0.6">1000</text>
<text x="145.3" y="1347.9" font-size="28.3" fill="#000" text-anchor="middle" stroke="#000" stroke-width="0.6">-30</text>
<text x="276.3" y="1347.9" font-size="28.3" fill="#000" text-anchor="middle" stroke="#000" stroke-width="0.6">-20</text>
<text x="407.3" y="1347.9" font-size="28.3" fill="#000" text-anchor="middle" stroke="#000" stroke-width="0.6">-10</text>
<text x="538.2" y="1347.9" font-size="28.3" fill="#000" text-anchor="middle" stroke="#000" stroke-width="0.6">0</text>
<text x="669.2" y="1347.9" font-size="28.3" fill="#000" text-anchor="middle" stroke="#000" stroke-width="0.6">10</text>
<text x="800.2" y="1347.9" font-size="28.3" fill="#000" text-anchor="middle" stroke="#000" stroke-width="0.6">20</text>
<text x="931.1" y="1347.9" font-size="28.3" fill="#000" text-anchor="middle" stroke="#000" stroke-width="0.6">30</text>
<text x="1062.1" y="1347.9" font-size="28.3" fill="#000" text-anchor="middle" stroke="#000" stroke-width="0.6">40</text>
<text x="604.0" y="1379.7" font-size="22.6" fill="#000" textLength="178.5" lengthAdjust="spacingAndGlyphs" stroke="#000" stroke-width="0.6">Temperature (C)</text>
<text x="0.0" y="0.0" font-size="25.0" fill="#000" textLength="79.5" lengthAdjust="spacingAndGlyphs" transform="translate(31,767.5) rotate(-90)" stroke="#000" stroke-width="0.6">P (hPa)</text>
<text x="0.0" y="0.0" font-size="29.0" fill="#000" textLength="224.5" lengthAdjust="spacingAndGlyphs" transform="translate(1238.5,587.6) rotate(90)" stroke="#000" stroke-width="0.6">Height (1000 Feet)</text>
<text x="1141.9" y="125.5" font-size="18.7" fill="#14b414" font-weight="bold" text-anchor="middle">0</text>
<text x="1141.9" y="1293.3" font-size="18.7" fill="#14b414" font-weight="bold" text-anchor="middle">0</text>
<text x="1214.0" y="125.5" font-size="18.7" fill="#14b414" font-weight="bold" text-anchor="middle">20</text>
<text x="1214.0" y="1293.3" font-size="18.7" fill="#14b414" font-weight="bold" text-anchor="middle">20</text>
<text x="1287.4" y="125.5" font-size="18.7" fill="#14b414" font-weight="bold" text-anchor="middle">40</text>
<text x="1287.4" y="1293.3" font-size="18.7" fill="#14b414" font-weight="bold" text-anchor="middle">40</text>
<text x="1359.2" y="125.5" font-size="18.7" fill="#14b414" font-weight="bold" text-anchor="middle">60</text>
<text x="1359.2" y="1293.3" font-size="18.7" fill="#14b414" font-weight="bold" text-anchor="middle">60</text>
<text x="1173.0" y="1314.2" font-size="19.0" fill="#14b414" font-weight="bold" textLength="88.8" lengthAdjust="spacingAndGlyphs">Speed (kt)</text>
<text x="0" y="0" style="font-family:'DejaVu Sans',sans-serif" font-weight="200" font-size="22.5" fill="#ffae00" text-anchor="middle" dominant-baseline="central" transform="translate(111.8,246.8) rotate(60.0) scale(1.00,1)">10</text>
<text x="0" y="0" style="font-family:'DejaVu Sans',sans-serif" font-weight="200" font-size="22.5" fill="#ffae00" text-anchor="middle" dominant-baseline="central" transform="translate(113.4,480.0) rotate(60.0) scale(1.00,1)">0</text>
<text x="0" y="0" style="font-family:'DejaVu Sans',sans-serif" font-weight="200" font-size="22.5" fill="#ffae00" text-anchor="middle" dominant-baseline="central" transform="translate(113.0,707.8) rotate(60.0) scale(1.00,1)">-10</text>
<text x="0" y="0" style="font-family:'DejaVu Sans',sans-serif" font-weight="200" font-size="22.5" fill="#ffae00" text-anchor="middle" dominant-baseline="central" transform="translate(110.0,929.0) rotate(60.0) scale(1.00,1)">-20</text>
<text x="0" y="0" style="font-family:'DejaVu Sans',sans-serif" font-weight="200" font-size="22.5" fill="#ffae00" text-anchor="middle" dominant-baseline="central" transform="translate(108.5,1154.0) rotate(60.0) scale(1.00,1)">-30</text>
<text x="0" y="0" style="font-family:'DejaVu Sans',sans-serif" font-weight="200" font-size="30.0" fill="#ffae00" text-anchor="middle" dominant-baseline="central" transform="translate(1024.5,340.7) rotate(-45.0) scale(0.87,1)">0</text>
<text x="0" y="0" style="font-family:'DejaVu Sans',sans-serif" font-weight="200" font-size="30.0" fill="#ffae00" text-anchor="middle" dominant-baseline="central" transform="translate(1059.0,532.0) rotate(-45.0) scale(0.87,1)">10</text>
<text x="0" y="0" style="font-family:'DejaVu Sans',sans-serif" font-weight="200" font-size="30.0" fill="#ffae00" text-anchor="middle" dominant-baseline="central" transform="translate(1126.5,657.0) rotate(-45.0) scale(0.87,1)">20</text>
<text x="0" y="0" style="font-family:'DejaVu Sans',sans-serif" font-weight="200" font-size="30.0" fill="#ffae00" text-anchor="middle" dominant-baseline="central" transform="translate(1195.0,778.5) rotate(-45.0) scale(0.87,1)">30</text>
<text x="0" y="0" style="font-family:'DejaVu Sans',sans-serif" font-weight="200" font-size="21.0" fill="#8cdc00" text-anchor="middle" dominant-baseline="central" transform="translate(329.6,1273.0) rotate(-72.0) scale(1.00,1)">1</text>
<text x="0" y="0" style="font-family:'DejaVu Sans',sans-serif" font-weight="200" font-size="21.0" fill="#8cdc00" text-anchor="middle" dominant-baseline="central" transform="translate(441.0,1274.0) rotate(-72.0) scale(1.00,1)">2</text>
<text x="0" y="0" style="font-family:'DejaVu Sans',sans-serif" font-weight="200" font-size="21.0" fill="#8cdc00" text-anchor="middle" dominant-baseline="central" transform="translate(509.5,1273.5) rotate(-72.0) scale(1.00,1)">3</text>
<text x="0" y="0" style="font-family:'DejaVu Sans',sans-serif" font-weight="200" font-size="21.0" fill="#8cdc00" text-anchor="middle" dominant-baseline="central" transform="translate(601.5,1272.5) rotate(-72.0) scale(1.00,1)">5</text>
<text x="0" y="0" style="font-family:'DejaVu Sans',sans-serif" font-weight="200" font-size="21.0" fill="#8cdc00" text-anchor="middle" dominant-baseline="central" transform="translate(691.0,1272.5) rotate(-72.0) scale(1.00,1)">8</text>
<text x="0" y="0" style="font-family:'DejaVu Sans',sans-serif" font-weight="200" font-size="21.0" fill="#8cdc00" text-anchor="middle" dominant-baseline="central" transform="translate(771.0,1273.7) rotate(-72.0) scale(1.00,1)">12</text>
<text x="0" y="0" style="font-family:'DejaVu Sans',sans-serif" font-weight="200" font-size="21.0" fill="#8cdc00" text-anchor="middle" dominant-baseline="central" transform="translate(876.3,1274.0) rotate(-72.0) scale(1.00,1)">20</text>
</svg></body></html>
